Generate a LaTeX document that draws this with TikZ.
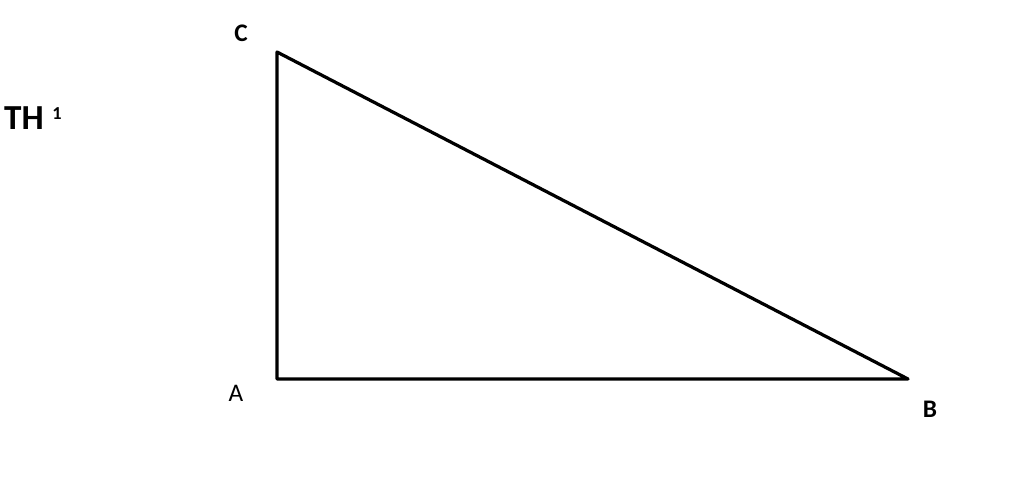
\documentclass[tikz,border=0pt]{standalone}
\usepackage{fontspec}
\setmainfont{Carlito}
\usetikzlibrary{arrows}

\begin{document}
\begin{tikzpicture}[line cap=round,line join=round,x=0.025cm,y=-0.025cm]
            \useasboundingbox (0,0) rectangle (1024,499);
            \coordinate (A) at (277,379);
            \coordinate (B) at (908,379);
            \coordinate (C) at (277,52);
            \draw [line width=2.3pt] (A)-- (B)-- (C)-- cycle;
            \node (labC) at (241,33) {\fontsize{18}{20}\selectfont\bfseries C};
            \node (labA) at (236,393) {\fontsize{18}{20}\selectfont A};
            \node (labB) at (930,409) {\fontsize{18}{20}\selectfont\bfseries B};
            \node (labTH) at (24,118) {\fontsize{25}{28}\selectfont\bfseries TH};
            \node (labOne) at (57,114) {\fontsize{13}{15}\selectfont\bfseries 1};
        \end{tikzpicture}
\end{document}
